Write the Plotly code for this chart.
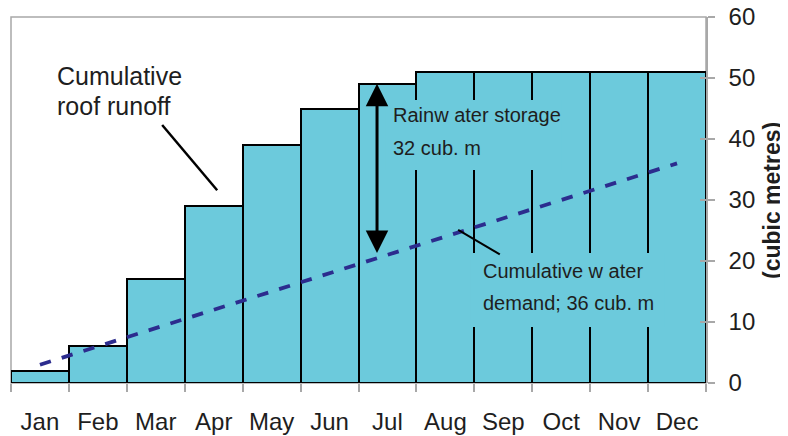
import plotly.graph_objects as go

months = ["Jan", "Feb", "Mar", "Apr", "May", "Jun", "Jul", "Aug", "Sep", "Oct", "Nov", "Dec"]
roof_runoff = [2, 6, 17, 29, 39, 45, 49, 51, 51, 51, 51, 51]
water_demand = [3, 6, 9, 12, 15, 18, 21, 24, 27, 30, 33, 36]
y_ticks = [0, 10, 20, 30, 40, 50, 60]

BAR = "#6CCADC"
TXT = "#1e1e1e"
GRAY = "#a8a8a8"
FONT = "Liberation Sans, Arial, sans-serif"

fig = go.Figure()
fig.add_trace(go.Bar(
    x=months, y=roof_runoff,
    marker=dict(color=BAR, line=dict(color="black", width=2)),
    showlegend=False, hoverinfo="skip",
))
fig.add_trace(go.Scatter(
    x=months, y=water_demand, mode="lines",
    line=dict(color="#2C2C8E", width=3.8, dash="dash"),
    showlegend=False, hoverinfo="skip",
))
# invisible trace on yaxis2 for inside ticks
fig.add_trace(go.Scatter(x=[months[0]], y=[0], yaxis="y2", mode="markers",
                         marker=dict(opacity=0), showlegend=False, hoverinfo="skip"))

shapes = [
    dict(type="rect", xref="paper", yref="paper", x0=0, x1=1, y0=0, y1=1,
         line=dict(color=GRAY, width=1.5), layer="below"),
    # label covers
    dict(type="rect", xref="x", yref="y", x0=5.96, x1=9.0, y0=34.9, y1=46.4,
         fillcolor=BAR, line=dict(width=0), layer="above"),
    dict(type="rect", xref="x", yref="y", x0=7.43, x1=10.79, y0=9.2, y1=21.3,
         fillcolor=BAR, line=dict(width=0), layer="above"),
    # connector lines
    dict(type="line", xref="x", yref="y", x0=2.11, y0=42.3, x1=3.06, y1=31.6,
         line=dict(color="black", width=2.5), layer="above"),
    dict(type="line", xref="x", yref="y", x0=7.22, y0=25.1, x1=7.94, y1=21.1,
         line=dict(color="black", width=2), layer="above"),
]

def px_x(p):
    return (p - 11) / 695.0

def px_y(p):
    return (383 - p) / 366.0

annotations = [
    dict(text="Cumulative", x=px_x(55), y=px_y(76), xref="paper", yref="paper",
         xanchor="left", yanchor="middle", showarrow=False, font=dict(size=25, color=TXT, family=FONT)),
    dict(text="roof runoff", x=px_x(55), y=px_y(106), xref="paper", yref="paper",
         xanchor="left", yanchor="middle", showarrow=False, font=dict(size=25, color=TXT, family=FONT)),
    dict(text="Rainw ater storage", x=px_x(391), y=px_y(115), xref="paper", yref="paper",
         xanchor="left", yanchor="middle", showarrow=False, font=dict(size=20, color=TXT, family=FONT)),
    dict(text="32 cub. m", x=px_x(391), y=px_y(148), xref="paper", yref="paper",
         xanchor="left", yanchor="middle", showarrow=False, font=dict(size=20, color=TXT, family=FONT)),
    dict(text="Cumulative w ater", x=px_x(481), y=px_y(271), xref="paper", yref="paper",
         xanchor="left", yanchor="middle", showarrow=False, font=dict(size=20, color=TXT, family=FONT)),
    dict(text="demand; 36 cub. m", x=px_x(481), y=px_y(303), xref="paper", yref="paper",
         xanchor="left", yanchor="middle", showarrow=False, font=dict(size=20, color=TXT, family=FONT)),
    # double arrow
    dict(text="", x=5.82, y=21.3, ax=5.82, ay=49.3, xref="x", yref="y", axref="x", ayref="y",
         showarrow=True, arrowhead=2, startarrowhead=2, arrowside="end+start",
         arrowsize=1.5, startarrowsize=1.5, arrowwidth=3, arrowcolor="black"),
    # y title
    dict(text="<b>(cubic metres)</b>", x=px_x(772), y=px_y(201), xref="paper", yref="paper",
         xanchor="center", yanchor="middle",
         showarrow=False, textangle=-90, font=dict(size=23, color=TXT, family=FONT)),
]

# the page body has an 8px default margin: plot area kept at the reference pixels
fig.update_layout(
    width=780, height=428,
    margin=dict(l=3, r=82, t=9, b=53, autoexpand=False),
    paper_bgcolor="white", plot_bgcolor="white",
    bargap=0,
    font=dict(family=FONT, color=TXT),
    shapes=shapes,
    annotations=annotations,
    xaxis=dict(
        type="category", range=[-0.5, 11.5], tickson="boundaries",
        ticks="outside", ticklen=8, tickcolor=GRAY, tickwidth=1.5,
        showline=False, showgrid=False, zeroline=False, automargin=False,
        tickfont=dict(size=24, color=TXT, family=FONT), ticklabelstandoff=22,
    ),
    yaxis=dict(
        side="right", range=[0, 60], tickvals=y_ticks,
        ticks="outside", ticklen=7, tickcolor=GRAY, tickwidth=1.5,
        showline=True, linecolor=GRAY, linewidth=1.5, automargin=False,
        showgrid=False, zeroline=False, ticklabeloverflow="allow",
        tickfont=dict(size=24, color=TXT, family=FONT), ticklabelstandoff=9,
    ),
    yaxis2=dict(
        overlaying="y", side="right", range=[0, 60], tickvals=y_ticks,
        ticks="inside", ticklen=6, tickcolor=GRAY, tickwidth=1.5, automargin=False,
        showticklabels=False, showline=False, showgrid=False, zeroline=False,
    ),
)

fig.write_html("out.html")
